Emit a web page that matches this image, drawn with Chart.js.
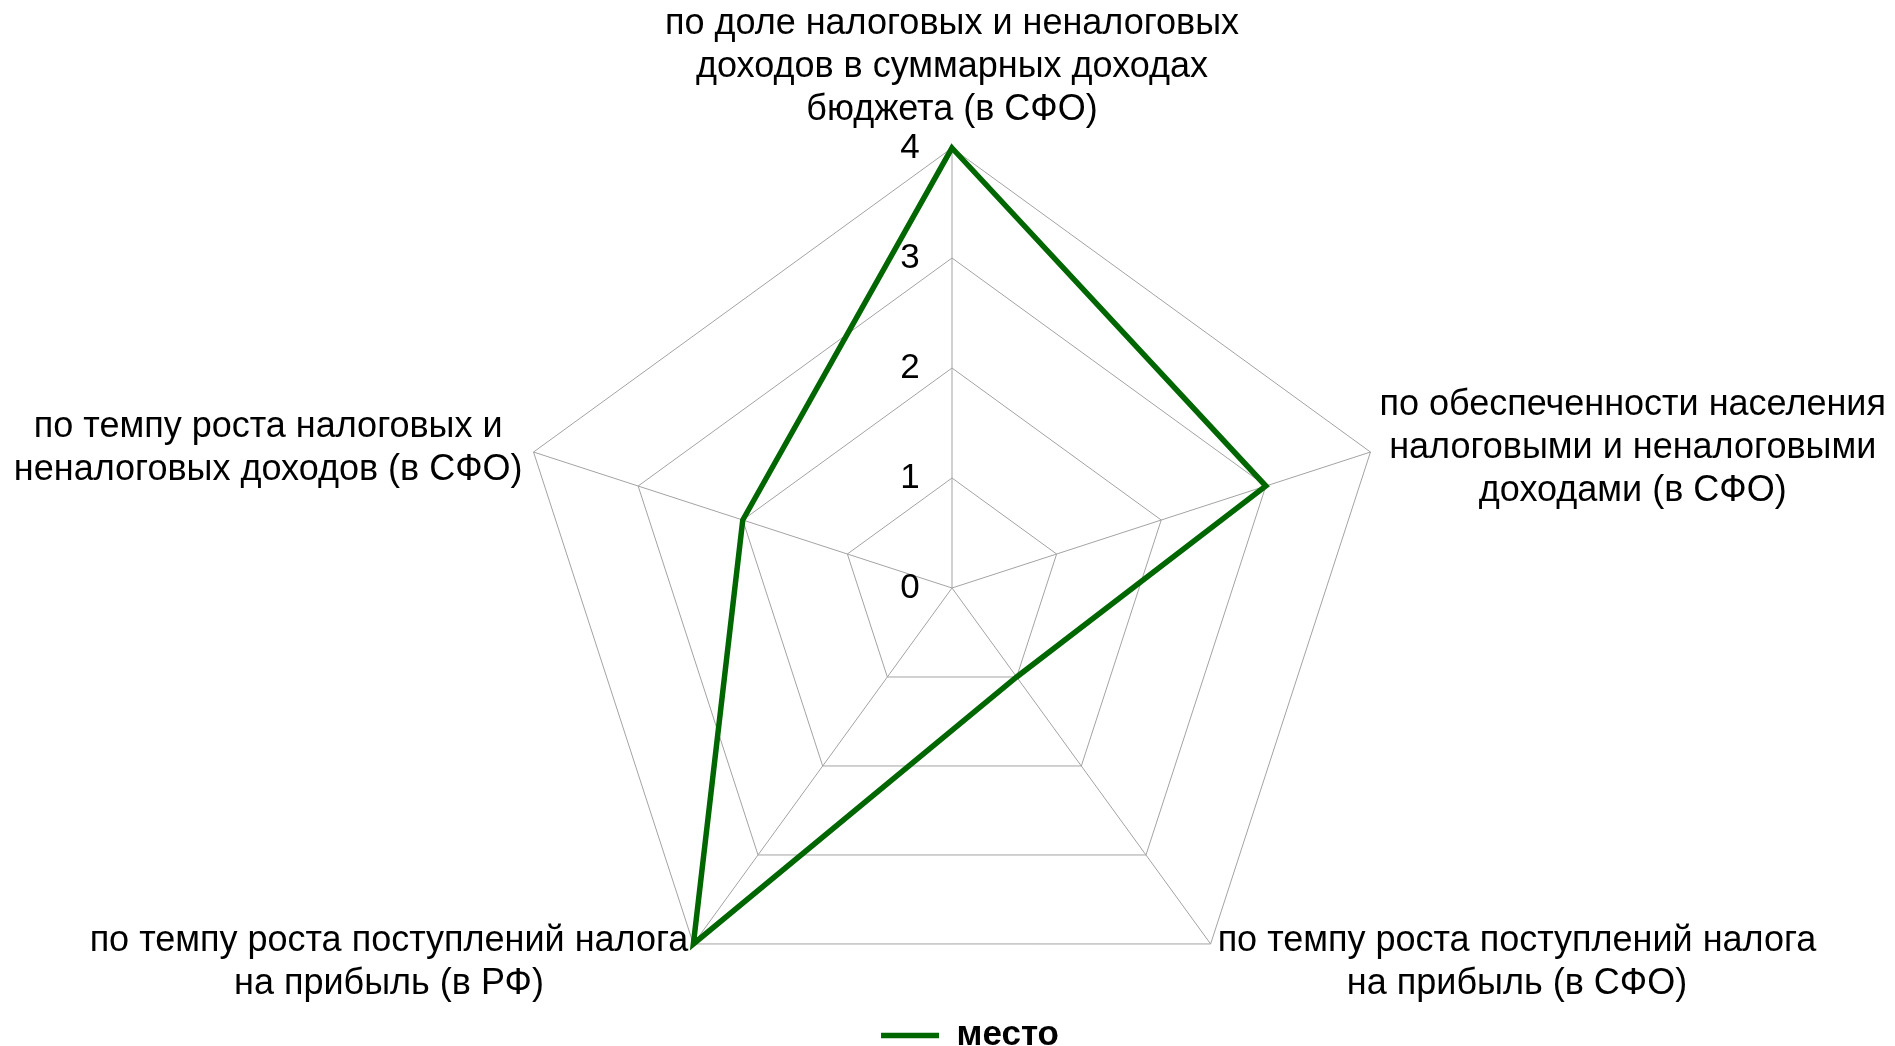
<!DOCTYPE html>
<html>
<head>
<meta charset="utf-8">
<script src="https://cdn.jsdelivr.net/npm/chart.js@4.4.0/dist/chart.umd.min.js"></script>
<style>
html, body { margin: 0; padding: 0; background: #ffffff; }
#wrap { width: 1895px; height: 1046px; }
</style>
</head>
<body>
<div id="wrap"><canvas id="c" width="1895" height="1046"></canvas></div>
<script>
// ---- data ----
const categories = [
  ["по доле налоговых и неналоговых", "доходов в суммарных доходах", "бюджета (в СФО)"],
  ["по обеспеченности населения", "налоговыми и неналоговыми", "доходами (в СФО)"],
  ["по темпу роста поступлений налога", "на прибыль (в СФО)"],
  ["по темпу роста поступлений налога", "на прибыль (в РФ)"],
  ["по темпу роста налоговых и", "неналоговых доходов (в СФО)"]
];
const seriesName = "место";
const seriesValues = [4, 3, 1, 4, 2];
const tickLabels = ["0", "1", "2", "3", "4"];

// ---- style ----
const FONT = 'Arial, "Liberation Sans", sans-serif';
const LABEL_SIZE = 36;
const TICK_SIZE = 35;
const LINE_H = 43;
const GRID = '#a3a3a3';
const GREEN = '#006600';

// label placement per axis: how the text block attaches to its outer vertex
const labelPlacement = [
  { mode: 'above', dx: 0, dy: -38 },
  { mode: 'leftEdge', dx: 9, dy: -4 },
  { mode: 'leftEdgeTop', dx: 7, dy: -3 },
  { mode: 'rightEdgeTop', dx: -5, dy: -3 },
  { mode: 'rightEdge', dx: -11, dy: -3 }
];

const labelsPlugin = {
  id: 'customLabels',
  beforeDatasetsDraw(chart) {
    const s = chart.scales.r;
    const ctx = chart.ctx;
    ctx.save();
    ctx.fillStyle = '#000';
    ctx.font = TICK_SIZE + 'px ' + FONT;
    ctx.textAlign = 'center';
    ctx.textBaseline = 'middle';
    s.ticks.forEach((t, i) => {
      const p = s.getPointPositionForValue(0, t.value);
      ctx.fillText(tickLabels[i] !== undefined ? tickLabels[i] : t.label, p.x - 42, p.y);
    });
    ctx.restore();
  },
  afterDraw(chart) {
    const s = chart.scales.r;
    const ctx = chart.ctx;
    ctx.save();
    ctx.fillStyle = '#000';
    ctx.font = LABEL_SIZE + 'px ' + FONT;
    ctx.textAlign = 'center';
    ctx.textBaseline = 'middle';
    categories.forEach((lines, i) => {
      const v = s.getPointPosition(i, s.drawingArea);
      const pl = labelPlacement[i];
      const maxW = Math.max(...lines.map(l => ctx.measureText(l).width));
      const n = lines.length;
      let cx, y0;
      if (pl.mode === 'above') {
        cx = v.x + pl.dx;
        y0 = v.y + pl.dy - (n - 1) * LINE_H;
      } else if (pl.mode === 'leftEdge') {
        cx = v.x + pl.dx + maxW / 2;
        y0 = v.y + pl.dy - (n - 1) * LINE_H / 2;
      } else if (pl.mode === 'rightEdge') {
        cx = v.x + pl.dx - maxW / 2;
        y0 = v.y + pl.dy - (n - 1) * LINE_H / 2;
      } else if (pl.mode === 'leftEdgeTop') {
        cx = v.x + pl.dx + maxW / 2;
        y0 = v.y + pl.dy;
      } else {
        cx = v.x + pl.dx - maxW / 2;
        y0 = v.y + pl.dy;
      }
      lines.forEach((l, k) => ctx.fillText(l, cx, y0 + k * LINE_H));
    });
    ctx.restore();
  }
};

new Chart(document.getElementById('c'), {
  type: 'radar',
  data: {
    labels: categories,
    datasets: [{
      label: seriesName,
      data: seriesValues,
      borderColor: GREEN,
      backgroundColor: GREEN,
      borderWidth: 5.5,
      borderJoinStyle: 'miter',
      borderCapStyle: 'round',
      fill: false,
      pointRadius: 0,
      pointHoverRadius: 0,
      tension: 0
    }]
  },
  options: {
    responsive: false,
    animation: false,
    devicePixelRatio: 1,
    layout: { padding: { left: 45, right: 0, top: 0, bottom: -17 } },
    plugins: {
      legend: {
        display: true,
        position: 'bottom',
        labels: {
          color: '#000',
          font: { family: FONT, size: 35, weight: 'bold' },
          usePointStyle: true,
          pointStyle: 'line',
          pointStyleWidth: 58,
          padding: 0
        }
      },
      tooltip: { enabled: false }
    },
    scales: {
      r: {
        min: 0,
        max: 4,
        ticks: { display: false, stepSize: 1 },
        pointLabels: { display: false },
        grid: { color: GRID, lineWidth: 1 },
        angleLines: { color: GRID, lineWidth: 1 },
        afterFit(scale) {
          scale.xCenter = 952;
          scale.yCenter = 588;
          scale.drawingArea = 440;
        }
      }
    }
  },
  plugins: [labelsPlugin]
});
</script>
</body>
</html>
